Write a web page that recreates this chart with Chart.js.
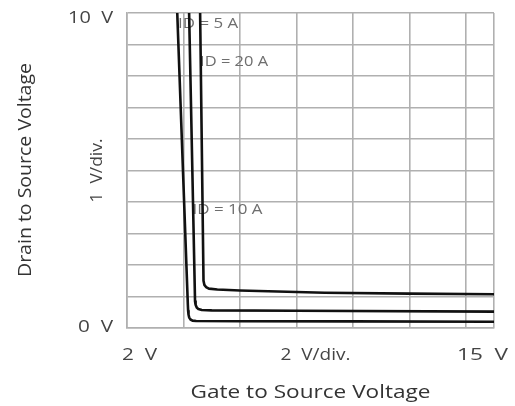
<!DOCTYPE html>
<html>
<head>
<meta charset="utf-8">
<script src="https://cdn.jsdelivr.net/npm/chart.js@4"></script>
<style>
  html, body { margin: 0; padding: 0; background: #fff; }
  #c { display: block; }
</style>
</head>
<body>
<canvas id="c" width="515" height="406"></canvas>
<script>
// Gate-to-source voltage (V) vs drain-to-source voltage (V), one curve per drain current
const curve5A_x  = [3.78, 4.155, 4.165, 4.18, 4.205, 4.25, 4.32, 4.45, 6, 10, 15];
const curve5A_y  = [10, 0.75, 0.55, 0.42, 0.33, 0.27, 0.235, 0.22, 0.215, 0.21, 0.20];
const curve10A_x = [4.20, 4.41, 4.43, 4.47, 4.53, 4.65, 5.0, 8, 15];
const curve10A_y = [10, 0.85, 0.74, 0.65, 0.60, 0.57, 0.56, 0.55, 0.52];
const curve20A_x = [4.59, 4.71, 4.74, 4.80, 4.90, 5.2, 6, 9, 12, 15];
const curve20A_y = [10, 1.5, 1.37, 1.30, 1.25, 1.22, 1.19, 1.12, 1.09, 1.07];

const curveLabels = ["ID = 5 A", "ID = 10 A", "ID = 20 A"];
const xTickValues = [2, 4, 6, 8, 10, 12, 14, 15];
const yTickValues = [0, 1, 2, 3, 4, 5, 6, 7, 8, 9, 10];
const xTickTexts = ["2  V", "2  V/div.", "15  V"];
const yTickTexts = ["0  V", "1  V/div.", "10  V"];
const xTitle = "Gate to Source Voltage";
const yTitle = "Drain to Source Voltage";

function pts(xs, ys) { return xs.map((x, i) => ({ x: x, y: ys[i] })); }

const GRID = '#b0b0b0';
const FONT = '"Open Sans", sans-serif';

// draw text stretched horizontally to a width, left edge at x, vertical middle at y
function fitText(ctx, text, left, midY, size, width, rotate) {
  ctx.save();
  ctx.font = size + 'px ' + FONT;
  const w = ctx.measureText(text).width;
  const s = width / w;
  ctx.translate(left, midY);
  if (rotate) {
    ctx.rotate(-Math.PI / 2);
    ctx.textAlign = 'center';
  } else {
    ctx.textAlign = 'left';
  }
  ctx.scale(s, 1);
  ctx.textBaseline = 'middle';
  ctx.fillText(text, 0, 0);
  ctx.restore();
}

const textPlugin = {
  id: 'texts',
  beforeDatasetsDraw(chart) {
    const { ctx, scales: { x, y } } = chart;
    ctx.save();
    ctx.fillStyle = '#6e6e6e';
    fitText(ctx, curveLabels[0], x.getPixelForValue(3.81), y.getPixelForValue(9.66), 14, 60);
    fitText(ctx, curveLabels[2], x.getPixelForValue(4.59), y.getPixelForValue(8.43), 14, 68);
    fitText(ctx, curveLabels[1], x.getPixelForValue(4.32), y.getPixelForValue(3.75), 14, 70);
    ctx.restore();
  },
  afterDraw(chart) {
    const { ctx, chartArea: a, scales: { x, y } } = chart;
    ctx.save();
    ctx.fillStyle = '#444';
    // y tick texts
    fitText(ctx, yTickTexts[2], a.left - 59, y.getPixelForValue(10) + 5, 17, 45);
    fitText(ctx, yTickTexts[0], a.left - 49, y.getPixelForValue(0) - 1, 17, 35);
    fitText(ctx, yTickTexts[1], a.left - 30, (a.top + a.bottom) / 2, 17, 64, true);
    // x tick texts
    const ty = a.bottom + 27;
    fitText(ctx, xTickTexts[0], x.getPixelForValue(2) - 5, ty, 17, 35);
    fitText(ctx, xTickTexts[1], (a.left + a.right) / 2 - 30, ty, 17, 70);
    fitText(ctx, xTickTexts[2], x.getPixelForValue(15) - 37, ty, 17, 51);
    // titles
    ctx.fillStyle = '#333';
    fitText(ctx, xTitle, (a.left + a.right) / 2 - 120, a.bottom + 65, 19, 240);
    fitText(ctx, yTitle, 26, 170, 19, 214, true);
    ctx.restore();
  }
};

const lineStyle = {
  borderColor: '#111',
  borderWidth: 2.6,
  pointRadius: 0,
  fill: false,
  tension: 0,
  borderJoinStyle: 'round'
};

new Chart(document.getElementById('c'), {
  type: 'line',
  data: {
    datasets: [
      Object.assign({ label: curveLabels[0], data: pts(curve5A_x, curve5A_y) }, lineStyle),
      Object.assign({ label: curveLabels[1], data: pts(curve10A_x, curve10A_y) }, lineStyle),
      Object.assign({ label: curveLabels[2], data: pts(curve20A_x, curve20A_y) }, lineStyle)
    ]
  },
  options: {
    responsive: false,
    animation: false,
    layout: { padding: { left: 127, top: 13, right: 21, bottom: 78 } },
    plugins: { legend: { display: false }, tooltip: { enabled: false } },
    scales: {
      x: {
        type: 'linear',
        min: 2, max: 15,
        afterBuildTicks(s) { s.ticks = xTickValues.map(v => ({ value: v })); },
        afterFit(s) { s.height = 0; },
        ticks: { display: false },
        grid: { color: GRID, lineWidth: 1.6, drawTicks: false },
        border: { display: true, color: GRID, width: 1.6 }
      },
      y: {
        type: 'linear',
        min: 0, max: 10,
        afterBuildTicks(s) { s.ticks = yTickValues.map(v => ({ value: v })); },
        afterFit(s) { s.width = 0; },
        ticks: { display: false },
        grid: { color: GRID, lineWidth: 1.6, drawTicks: false },
        border: { display: true, color: GRID, width: 1.6 }
      }
    }
  },
  plugins: [textPlugin]
});
</script>
</body>
</html>
